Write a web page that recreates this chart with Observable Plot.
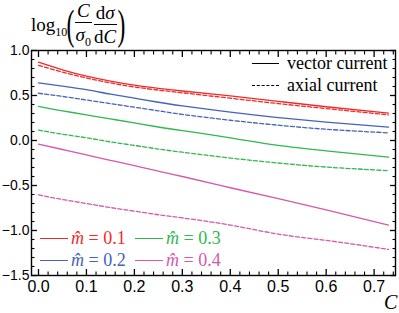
<!DOCTYPE html>
<html>
<head>
<meta charset="utf-8">
<script src="https://cdn.jsdelivr.net/npm/d3@7"></script>
<script src="https://cdn.jsdelivr.net/npm/@observablehq/plot@0.6"></script>
<style>
  body { margin: 0; background: #fff; }
  #wrap { position: relative; width: 399px; height: 313px; }
  #wrap svg { position: absolute; left: 0; top: 0; }
  .ov, .leg { font-family: "Liberation Serif", "Times New Roman", serif; }
  .ov { position: absolute; white-space: nowrap; }
  .frac { display: inline-flex; flex-direction: column; align-items: center; margin: 0 1px; line-height: 1.0; }
  .frac .num { border-bottom: 1px solid #000; padding: 0 2px 2px 2px; }
  .frac .den { padding-top: 2px; }
  .paren { font-size: 38px; line-height: 38px; height: 38px; display: inline-block; transform: scale(0.62, 1.12); margin: 0 -3px; }
  .leg { position: absolute; display: flex; align-items: center; font-size: 18px; height: 22px; white-space: nowrap; }
  .sample { display: inline-block; height: 0; }
</style>
</head>
<body>
<div id="wrap"></div>
<script>
// ---- data ----
const cValues = [0, 0.05, 0.1, 0.15, 0.2, 0.25, 0.3, 0.4, 0.5, 0.6, 0.73];
const masses = ["0.1", "0.2", "0.3", "0.4"];
const colors = ["#f02a2a", "#4563b8", "#2fb84f", "#d658ae"];
const vector01 = [0.87, 0.785, 0.715, 0.66, 0.615, 0.58, 0.55, 0.495, 0.435, 0.375, 0.305];
const axial01  = [0.835, 0.76, 0.695, 0.64, 0.595, 0.56, 0.53, 0.47, 0.41, 0.355, 0.285];
const vector02 = [0.64, 0.605, 0.565, 0.515, 0.47, 0.425, 0.385, 0.315, 0.255, 0.205, 0.148];
const axial02  = [0.525, 0.49, 0.45, 0.41, 0.37, 0.33, 0.29, 0.225, 0.17, 0.125, 0.085];
const vector03 = [0.38, 0.33, 0.285, 0.24, 0.195, 0.15, 0.11, 0.03, -0.055, -0.115, -0.185];
const axial03  = [0.115, 0.07, 0.03, -0.015, -0.055, -0.095, -0.13, -0.195, -0.25, -0.295, -0.335];
const vector04 = [-0.04, -0.1, -0.16, -0.22, -0.28, -0.34, -0.40, -0.525, -0.645, -0.77, -0.94];
const axial04  = [-0.605, -0.655, -0.70, -0.745, -0.785, -0.825, -0.86, -0.94, -1.04, -1.11, -1.21];
const xMajor = [0, 0.1, 0.2, 0.3, 0.4, 0.5, 0.6, 0.7];
const xMinor = [0.02, 0.04, 0.06, 0.08, 0.12, 0.14, 0.16, 0.18, 0.22, 0.24, 0.26, 0.28,
                0.32, 0.34, 0.36, 0.38, 0.42, 0.44, 0.46, 0.48, 0.52, 0.54, 0.56, 0.58,
                0.62, 0.64, 0.66, 0.68, 0.72, 0.74];
const yMajor = [-1.5, -1.0, -0.5, 0.0, 0.5, 1.0];
const yMinor = [-1.4, -1.3, -1.2, -1.1, -0.9, -0.8, -0.7, -0.6, -0.4, -0.3, -0.2, -0.1,
                0.1, 0.2, 0.3, 0.4, 0.6, 0.7, 0.8, 0.9];

const series = [
  [masses[0], "vector", vector01], [masses[0], "axial", axial01],
  [masses[1], "vector", vector02], [masses[1], "axial", axial02],
  [masses[2], "vector", vector03], [masses[2], "axial", axial03],
  [masses[3], "vector", vector04], [masses[3], "axial", axial04]
];
const table = series.flatMap(([m, type, ys]) => ys.map((y, i) => ({c: cValues[i], y, m, type})));

const fmt = d => d.toFixed(1).replace("-", "\u2212");
const sans = "Liberation Sans, Arial, sans-serif";

const chart = Plot.plot({
  width: 399,
  height: 313,
  marginLeft: 31,
  marginRight: 4,
  marginTop: 50,
  marginBottom: 38,
  style: {background: "transparent", color: "#000", overflow: "visible"},
  x: {domain: [-0.0146, 0.7446], label: null},
  y: {domain: [-1.5, 1.0], label: null},
  color: {domain: masses, range: colors},
  marks: [
    Plot.lineY(table.filter(d => d.type === "vector"), {x: "c", y: "y", z: "m", stroke: "m", strokeWidth: 1.3, curve: "natural"}),
    Plot.lineY(table.filter(d => d.type === "axial"), {x: "c", y: "y", z: "m", stroke: "m", strokeWidth: 1.3, strokeDasharray: "4,2.2", curve: "natural"}),
    Plot.frame({stroke: "#000", strokeWidth: 1.4}),
    // ticks inside the frame
    Plot.axisX(xMajor, {anchor: "bottom", tickSize: -6, tickFormat: () => "", strokeWidth: 1.3}),
    Plot.axisX(xMinor, {anchor: "bottom", tickSize: -3.5, tickFormat: () => "", strokeWidth: 1.1}),
    Plot.axisX(xMajor, {anchor: "top", tickSize: -6, tickFormat: () => "", strokeWidth: 1.3}),
    Plot.axisX(xMinor, {anchor: "top", tickSize: -3.5, tickFormat: () => "", strokeWidth: 1.1}),
    Plot.axisY(yMajor, {anchor: "left", tickSize: -6, tickFormat: () => "", strokeWidth: 1.3}),
    Plot.axisY(yMinor, {anchor: "left", tickSize: -3.5, tickFormat: () => "", strokeWidth: 1.1}),
    Plot.axisY(yMajor, {anchor: "right", tickSize: -6, tickFormat: () => "", strokeWidth: 1.3}),
    Plot.axisY(yMinor, {anchor: "right", tickSize: -3.5, tickFormat: () => "", strokeWidth: 1.1}),
    // tick labels
    Plot.axisX(xMajor, {anchor: "bottom", tickSize: 0, tickPadding: 5, tickFormat: fmt, fontFamily: sans, fontSize: 16, fill: "#000"}),
    Plot.axisY(yMajor, {anchor: "left", tickSize: 0, tickPadding: 2, tickFormat: fmt, fontFamily: sans, fontSize: 14, fill: "#000"})
  ]
});

const wrap = document.getElementById("wrap");
wrap.appendChild(chart);

// y label (math title)
const title = document.createElement("div");
title.className = "ov";
title.style.left = "31px";
title.style.top = "2px";
title.style.fontSize = "19px";
title.style.display = "flex";
title.style.alignItems = "center";
title.style.height = "44px";
title.innerHTML = `<span style="margin-top:6px">log<sub style="font-size:12px">10</sub></span>` +
  `<span class="paren">(</span>` +
  `<span class="frac"><span class="num"><i>C</i></span><span class="den"><i>σ</i><sub style="font-size:12px">0</sub></span></span>` +
  `<span class="frac"><span class="num">d<i>σ</i></span><span class="den">d<i>C</i></span></span>` +
  `<span class="paren">)</span>`;
wrap.appendChild(title);

// x label
const xl = document.createElement("div");
xl.className = "ov";
xl.style.left = "384px";
xl.style.top = "291px";
xl.style.fontSize = "20px";
xl.innerHTML = "<i>C</i>";
wrap.appendChild(xl);

// line-style legend (top right)
const styleLegend = [["vector current", "solid", 52], ["axial current", "dashed", 74]];
styleLegend.forEach(([label, dash, top]) => {
  const el = document.createElement("div");
  el.className = "leg";
  el.style.left = "252px";
  el.style.top = top + "px";
  el.innerHTML = `<span class="sample" style="border-top:1.4px ${dash} #000;width:27px;margin-right:8px"></span><span>${label}</span>`;
  wrap.appendChild(el);
});

// mass legend (bottom left)
const massPos = [[40, 227], [40, 249], [135, 227], [135, 249]];
masses.forEach((m, i) => {
  const el = document.createElement("div");
  el.className = "leg";
  el.style.left = massPos[i][0] + "px";
  el.style.top = massPos[i][1] + "px";
  el.style.color = colors[i];
  el.innerHTML = `<span class="sample" style="border-top:1.4px solid ${colors[i]};width:28px;margin-right:3px"></span><span><i>m\u0302</i> = ${m}</span>`;
  wrap.appendChild(el);
});
</script>
</body>
</html>
